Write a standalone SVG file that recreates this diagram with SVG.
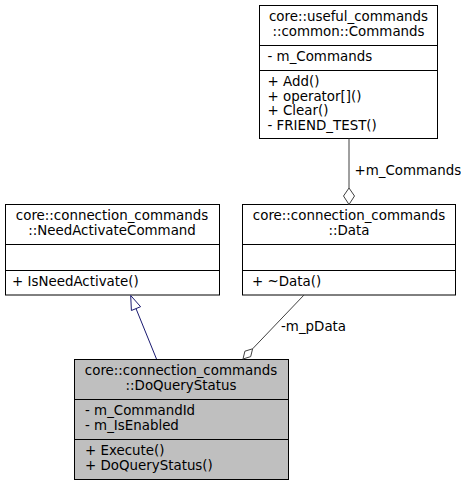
<svg xmlns="http://www.w3.org/2000/svg" width="461" height="485" viewBox="0 0 461 485">
  <style>
    text { font-family: "DejaVu Sans", Verdana, sans-serif; font-size: 13.4px; fill: #000; }
    .title { text-anchor: middle; }
    .box { fill: #fff; stroke: #000; stroke-width: 1; }
    .cur { fill: #bfbfbf; stroke: #000; stroke-width: 1; }
    .sep { stroke: #000; stroke-width: 1; }
    .inh { stroke: #191970; stroke-width: 1; fill: none; }
    .inh-head { stroke: #191970; stroke-width: 1; fill: #fff; }
    .agg { stroke: #404040; stroke-width: 1; fill: none; }
    .agg-head { stroke: #404040; stroke-width: 1; fill: #fff; }
  </style>

  <rect width="461" height="485" fill="#fff"/>

  <!-- class core::useful_commands::common::Commands -->
  <g id="node-commands">
    <rect class="box" x="259.5" y="5.5" width="178" height="133"/>
    <text class="title" x="348.5" y="21">core::useful_commands</text>
    <text class="title" x="348.5" y="35.5">::common::Commands</text>
    <line class="sep" x1="259.5" y1="45.5" x2="437.5" y2="45.5"/>
    <text x="267.5" y="61">- m_Commands</text>
    <line class="sep" x1="259.5" y1="70.5" x2="437.5" y2="70.5"/>
    <text x="267.5" y="86">+ Add()</text>
    <text x="267.5" y="100.5">+ operator[]()</text>
    <text x="267.5" y="115">+ Clear()</text>
    <text x="267.5" y="129.5">- FRIEND_TEST()</text>
  </g>

  <!-- class core::connection_commands::NeedActivateCommand -->
  <g id="node-needactivate">
    <rect class="box" x="5.5" y="204.5" width="214" height="90.5"/>
    <text class="title" x="112" y="220">core::connection_commands</text>
    <text class="title" x="112" y="234.5">::NeedActivateCommand</text>
    <line class="sep" x1="5.5" y1="244.5" x2="219.5" y2="244.5"/>
    <line class="sep" x1="5.5" y1="270.5" x2="219.5" y2="270.5"/>
    <text x="12" y="286">+ IsNeedActivate()</text>
  </g>

  <!-- class core::connection_commands::Data -->
  <g id="node-data">
    <rect class="box" x="242.5" y="204.5" width="213" height="90.5"/>
    <text class="title" x="349" y="220">core::connection_commands</text>
    <text class="title" x="349" y="234.5">::Data</text>
    <line class="sep" x1="242.5" y1="244.5" x2="455.5" y2="244.5"/>
    <line class="sep" x1="242.5" y1="270.5" x2="455.5" y2="270.5"/>
    <text x="252" y="286">+ ~Data()</text>
  </g>

  <!-- class core::connection_commands::DoQueryStatus -->
  <g id="node-doquerystatus">
    <rect class="cur" x="74.5" y="359.5" width="214" height="120"/>
    <text class="title" x="181" y="375">core::connection_commands</text>
    <text class="title" x="181" y="389.5">::DoQueryStatus</text>
    <line class="sep" x1="74.5" y1="399.5" x2="288.5" y2="399.5"/>
    <text x="85" y="415">- m_CommandId</text>
    <text x="85" y="429.5">- m_IsEnabled</text>
    <line class="sep" x1="74.5" y1="439.5" x2="288.5" y2="439.5"/>
    <text x="85" y="455">+ Execute()</text>
    <text x="85" y="469.5">+ DoQueryStatus()</text>
  </g>

  <!-- connectors -->
  <g id="edges">
    <!-- DoQueryStatus inherits NeedActivateCommand -->
    <line class="inh" x1="156.5" y1="359" x2="136" y2="308.6"/>
    <polygon class="inh-head" points="130.7,295.5 140.6,306.7 131.4,310.5"/>

    <!-- DoQueryStatus aggregates Data -->
    <line class="agg" x1="304" y1="295" x2="252.6" y2="348.8"/>
    <polygon class="agg-head" points="243,359 244.9,351.2 252.6,348.8 250.7,356.6"/>
    <text x="281" y="330.5">-m_pData</text>

    <!-- Data aggregates Commands -->
    <line class="agg" x1="349" y1="138.5" x2="349" y2="188"/>
    <polygon class="agg-head" points="349,204.5 343.5,196 349,188 354.5,196"/>
    <text x="354.5" y="175">+m_Commands</text>
  </g>
</svg>
